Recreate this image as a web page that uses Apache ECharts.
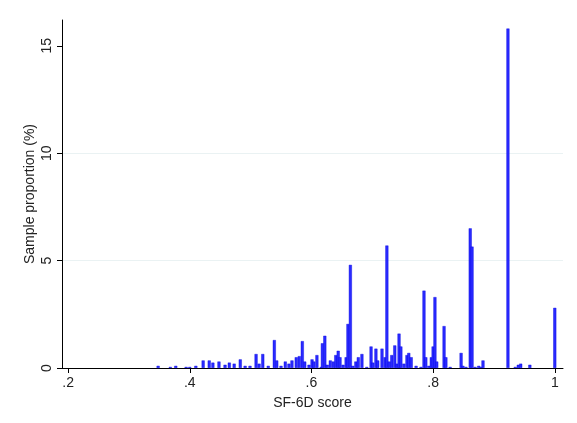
<!DOCTYPE html>
<html>
<head>
<meta charset="utf-8">
<script src="https://cdn.jsdelivr.net/npm/echarts@6/dist/echarts.min.js"></script>
<style>html,body{margin:0;padding:0;background:#fff}#c{width:577px;height:423px}</style>
</head>
<body>
<div id="c"></div>
<script>
// SF-6D score values (bar positions)
var scores = [0.348,0.368,0.377,0.394,0.400,0.410,0.422,0.432,0.438,0.448,0.458,0.465,0.473,0.483,0.491,0.499,
0.509,0.514,0.520,0.529,0.539,0.543,0.550,0.557,0.563,0.568,0.575,0.580,0.585,0.589,0.596,0.601,0.604,0.609,
0.616,0.618,0.622,0.626,0.631,0.636,0.640,0.644,0.647,0.652,0.657,0.660,0.664,0.668,0.673,0.677,0.683,0.691,
0.698,0.701,0.706,0.709,0.716,0.721,0.724,0.728,0.732,0.737,0.741,0.744,0.747,0.752,0.757,0.760,0.764,0.772,
0.780,0.785,0.788,0.793,0.797,0.800,0.803,0.806,0.818,0.821,0.828,0.846,0.849,0.854,0.861,0.864,0.869,0.875,
0.879,0.882,0.923,0.935,0.940,0.944,0.959,1.000];
// Sample proportion (%)
var proportions = [0.1,0.05,0.1,0.05,0.05,0.1,0.35,0.35,0.25,0.3,0.15,0.25,0.2,0.4,0.1,0.1,
0.65,0.2,0.65,0.1,1.3,0.35,0.1,0.3,0.2,0.35,0.5,0.55,1.25,0.3,0.15,0.4,0.3,0.6,
0.05,1.15,1.5,0.15,0.35,0.3,0.6,0.8,0.5,0.15,0.5,2.05,4.8,0.1,0.3,0.5,0.65,0.05,
1.0,0.25,0.9,0.35,0.9,0.5,5.7,0.3,0.6,1.05,0.2,1.6,1.0,0.2,0.6,0.7,0.5,0.1,
0.05,3.6,0.5,0.1,0.5,1.0,3.3,0.3,1.95,0.5,0.05,0.7,0.1,0.05,6.5,5.65,0.05,0.1,
0.05,0.35,15.8,0.05,0.15,0.2,0.15,2.8];
var xTicks = [0.2,0.4,0.6,0.8,1.0];
var yTicks = [0,5,10,15];

var data = scores.map(function(s,i){return [s, proportions[i]];});
var chart = echarts.init(document.getElementById('c'), null, {renderer:'canvas'});
chart.setOption({
  animation:false,
  backgroundColor:'#fff',
  grid:{left:62,right:14,top:20,bottom:55},
  xAxis:{
    type:'value', min:0.19, max:1.0135,
    name:'SF-6D score', nameLocation:'middle', nameGap:28,
    nameTextStyle:{color:'#222',fontSize:14,fontFamily:'Liberation Sans, Arial'},
    axisLine:{show:true,onZero:false,lineStyle:{color:'#000',width:1}},
    axisTick:{show:true,length:5,customValues:xTicks,lineStyle:{color:'#000'}},
    axisLabel:{customValues:xTicks,color:'#222',fontSize:14,margin:8,fontFamily:'Liberation Sans, Arial',
      formatter:function(v){var s=String(Math.round(v*10)/10);return s.replace(/^0\./,'.');}},
    splitLine:{show:false}
  },
  yAxis:{
    type:'value', min:0, max:16.2,
    name:'Sample proportion (%)', nameLocation:'middle', nameGap:25, nameRotate:90,
    nameMoveOverlap:false,
    nameTextStyle:{color:'#222',fontSize:14,fontFamily:'Liberation Sans, Arial'},
    axisLine:{show:true,lineStyle:{color:'#000',width:1}},
    axisTick:{show:true,length:5,customValues:yTicks,lineStyle:{color:'#000'}},
    axisLabel:{customValues:yTicks,rotate:90,color:'#222',fontSize:14,margin:8,fontFamily:'Liberation Sans, Arial',
      verticalAlign:'bottom', align:'center'},
    interval:5,
    splitLine:{show:true,showMinLine:false,showMaxLine:false,lineStyle:{color:'#eaf2f3',width:1}}
  },
  series:[{
    type:'bar', data:data, barWidth:3,
    itemStyle:{color:'#2a2aff',borderColor:'#0000e0',borderWidth:0.4}
  }]
});
</script>
</body>
</html>
